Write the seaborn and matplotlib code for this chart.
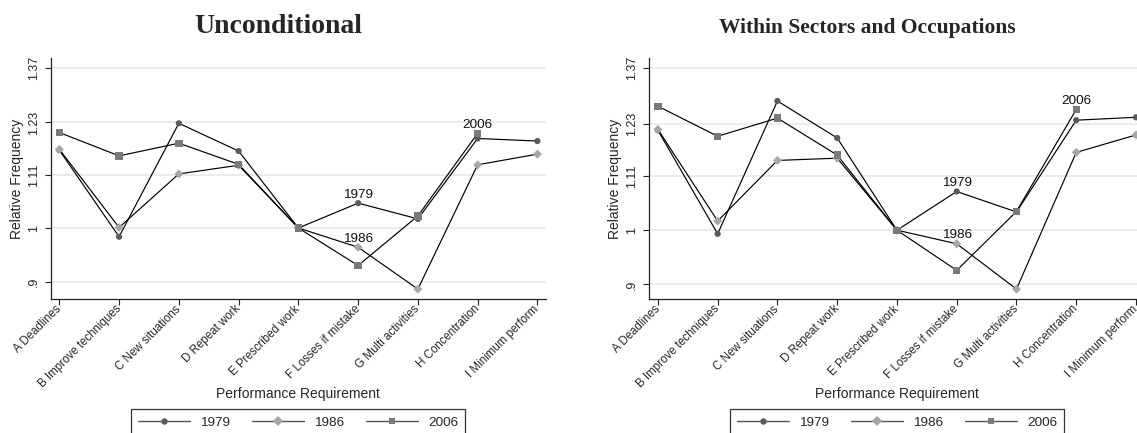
import numpy as np
import pandas as pd
import matplotlib
matplotlib.use("Agg")
import matplotlib.pyplot as plt
import seaborn as sns
from matplotlib.lines import Line2D
from matplotlib.ticker import FixedLocator, NullLocator

# Performance requirement categories (x axis)
categories = [
    "A Deadlines", "B Improve techniques", "C New situations", "D Repeat work",
    "E Prescribed work", "F Losses if mistake", "G Multi activities",
    "H Concentration", "I Minimum perform",
]
years = ["1979", "1986", "2006"]

# Relative frequencies, unconditional
uncond_1979 = [1.165, 0.983, 1.228, 1.163, 1.000, 1.050, 1.018, 1.192, 1.186]
uncond_1986 = [1.167, 1.001, 1.112, 1.131, 1.000, 0.963, 0.887, 1.132, 1.156]
uncond_2006 = [1.206, 1.152, 1.181, 1.133, 1.000, 0.929, 1.024, 1.204]

# Relative frequencies, within sectors and occupations
within_1979 = [1.214, 0.993, 1.285, 1.196, 1.000, 1.078, 1.036, 1.238, 1.245]
within_1986 = [1.216, 1.018, 1.145, 1.150, 1.000, 0.974, 0.892, 1.163, 1.203]
within_2006 = [1.272, 1.200, 1.243, 1.157, 1.000, 0.925, 1.037, 1.264]

y_ticks = [0.9, 1.0, 1.11, 1.23, 1.37]
y_tick_labels = [".9", "1", "1.11", "1.23", "1.37"]

# (series label, category index carrying the label)
point_labels = {"1979": 5, "1986": 5, "2006": 7}

panel_titles = ["Unconditional", "Within Sectors and Occupations"]
panel_series = [
    {"1979": uncond_1979, "1986": uncond_1986, "2006": uncond_2006},
    {"1979": within_1979, "1986": within_1986, "2006": within_2006},
]


def to_frame(series):
    rows = []
    for yr in years:
        for i, v in enumerate(series[yr]):
            rows.append({"pos": i, "category": categories[i], "year": yr, "value": v})
    return pd.DataFrame(rows)


sns.set_theme(style="white")
plt.rcParams["font.family"] = ["Liberation Sans", "DejaVu Sans"]

marker_colors = {"1979": "#5a5a5a", "1986": "#a6a6a6", "2006": "#7a7a7a"}
marker_shapes = {"1979": "o", "1986": "D", "2006": "s"}
marker_sizes = {"1979": 20, "1986": 21, "2006": 28}

W, H = 1137, 433
fig = plt.figure(figsize=(W / 100, H / 100), dpi=100)

panel_left_px = [50.7, 649.3]
axes_w_px = 495.3
axes_top_px, axes_bot_px = 58.3, 299.0
ylims = [(0.870, 1.395), (0.875, 1.396)]
title_x_px = [277.8, 867.0]
title_sizes = [20, 15.5]

spine_col = "#222222"

for k in range(2):
    x0 = panel_left_px[k] / W
    ax = fig.add_axes([x0, 1 - axes_bot_px / H, axes_w_px / W, (axes_bot_px - axes_top_px) / H])
    df = to_frame(panel_series[k])

    ax.set_yscale("log")
    for t in y_ticks:
        ax.axhline(t, color="#e8e8e8", lw=1.2, zorder=0)

    sns.lineplot(data=df, x="pos", y="value", units="year", estimator=None,
                 color="black", lw=0.85, sort=False, legend=False, ax=ax, zorder=2)
    sns.scatterplot(data=df, x="pos", y="value", hue="year", style="year", size="year",
                    palette=marker_colors, markers=marker_shapes, sizes=marker_sizes,
                    linewidth=0, legend=False, ax=ax, zorder=3)

    for yr, idx in point_labels.items():
        ax.annotate(yr, xy=(idx, panel_series[k][yr][idx]), xytext=(0, 4),
                    textcoords="offset points", ha="center", va="baseline",
                    fontsize=9.7, color="#111111", zorder=4)

    ax.set_ylim(*ylims[k])
    ax.set_xlim(-0.144, 8.144)
    ax.yaxis.set_major_locator(FixedLocator(y_ticks))
    ax.yaxis.set_minor_locator(NullLocator())
    ax.set_yticklabels(y_tick_labels)
    ax.set_xticks(range(len(categories)))
    ax.set_xticklabels(categories)

    ax.tick_params(axis="y", labelrotation=90, labelsize=9, direction="out",
                   length=4, width=0.8, color=spine_col, pad=4, left=True)
    ax.tick_params(axis="x", labelsize=8.3, direction="out", length=4,
                   width=0.8, color=spine_col, pad=2, bottom=True)
    for lab in ax.get_yticklabels():
        lab.set_va("center")
    for lab in ax.get_xticklabels():
        lab.set_rotation(45)
        lab.set_ha("right")
        lab.set_va("center")
        lab.set_rotation_mode("anchor")

    for side in ["top", "right"]:
        ax.spines[side].set_visible(False)
    for side in ["left", "bottom"]:
        ax.spines[side].set_color(spine_col)
        ax.spines[side].set_linewidth(0.9)

    ax.set_xlabel("")
    ax.set_ylabel("Relative Frequency", fontsize=10)
    ax.yaxis.set_label_coords(-0.0545, 0.5)

    cx = (panel_left_px[k] + axes_w_px / 2) / W
    fig.text(cx, 1 - 394 / H, "Performance Requirement", ha="center", va="center", fontsize=10)
    fig.text(title_x_px[k] / W, 1 - 33.3 / H, panel_titles[k], ha="center", va="baseline",
             fontsize=title_sizes[k], fontweight="bold",
             family=["Liberation Serif", "DejaVu Serif"])

    handles = [
        Line2D([0], [0], color="#555555", lw=1.0, marker=marker_shapes[yr],
               markerfacecolor=marker_colors[yr], markeredgewidth=0,
               markersize=4.6 if yr != "2006" else 5.0)
        for yr in years
    ]
    leg = fig.legend(handles, years, loc="upper center",
                     bbox_to_anchor=(cx, 1 - 409.3 / H), ncol=3, fontsize=9.7,
                     frameon=True, fancybox=False, shadow=False, framealpha=1,
                     handlelength=3.86, handletextpad=0.74, columnspacing=1.63,
                     borderpad=0.52, borderaxespad=0)
    leg.get_frame().set_edgecolor("#333333")
    leg.get_frame().set_linewidth(0.9)

fig.savefig("out.png", dpi=100)
